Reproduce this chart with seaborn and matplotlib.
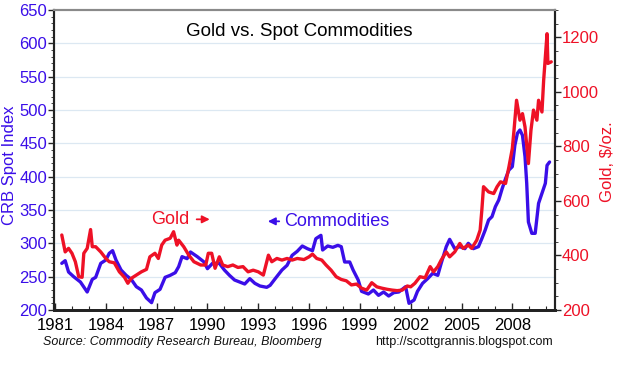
import matplotlib
matplotlib.use('Agg')

import matplotlib.pyplot as plt
import seaborn as sns
from matplotlib.ticker import MultipleLocator

# CRB spot index (left axis)
crb_year = [1981.4, 1981.6, 1981.8, 1982.1, 1982.5, 1982.9, 1983.2, 1983.4, 1983.7, 1984.0,
            1984.2, 1984.4, 1984.6, 1984.9, 1985.2, 1985.5, 1985.8, 1986.1, 1986.4, 1986.7,
            1986.9, 1987.2, 1987.5, 1987.8, 1988.1, 1988.3, 1988.5, 1988.8, 1989.0, 1989.4,
            1989.8, 1990.0, 1990.3, 1990.7, 1991.0, 1991.3, 1991.6, 1991.9, 1992.2, 1992.5,
            1992.8, 1993.1, 1993.5, 1993.7, 1994.0, 1994.4, 1994.7, 1995.0, 1995.3, 1995.6,
            1995.9, 1996.2, 1996.4, 1996.7, 1996.8, 1997.1, 1997.4, 1997.7, 1997.9, 1998.1,
            1998.4, 1998.6, 1998.9, 1999.1, 1999.5, 1999.8, 2000.1, 2000.4, 2000.7, 2001.0,
            2001.3, 2001.7, 2001.9, 2002.2, 2002.4, 2002.7, 2003.0, 2003.3, 2003.6, 2003.8,
            2004.1, 2004.3, 2004.6, 2004.9, 2005.2, 2005.4, 2005.7, 2006.0, 2006.2, 2006.4,
            2006.6, 2006.8, 2007.0, 2007.2, 2007.4, 2007.6, 2007.8, 2008.0, 2008.15, 2008.3,
            2008.45, 2008.6, 2008.75, 2008.85, 2008.95, 2009.15, 2009.35, 2009.55, 2009.75, 2009.95,
            2010.05, 2010.2]
crb_value = [270, 274, 257, 250, 242, 227, 246, 249, 270, 275,
             285, 289, 275, 260, 252, 246, 235, 230, 218, 211,
             226, 231, 249, 252, 256, 265, 280, 277, 287, 280,
             272, 262, 270, 270, 260, 252, 245, 242, 239, 247,
             240, 236, 234, 237, 247, 260, 267, 282, 288, 296,
             292, 289, 307, 312, 290, 296, 294, 297, 295, 272,
             272, 260, 245, 228, 224, 230, 222, 227, 221, 226,
             227, 235, 210, 215, 228, 240, 247, 255, 252, 270,
             295, 306, 292, 295, 292, 300, 292, 295, 307, 320,
             335, 340, 355, 365, 382, 397, 410, 415, 447, 465,
             470, 462, 430, 390, 332, 315, 315, 360, 375, 390,
             417, 422]

# Gold, $/oz. (right axis)
gold_year = [1981.4, 1981.6, 1981.8, 1982.0, 1982.2, 1982.4, 1982.6, 1982.7, 1982.9, 1983.1,
             1983.2, 1983.4, 1983.7, 1984.0, 1984.2, 1984.5, 1984.8, 1985.1, 1985.3, 1985.5,
             1985.8, 1986.1, 1986.4, 1986.6, 1986.9, 1987.1, 1987.3, 1987.5, 1987.8, 1988.0,
             1988.2, 1988.3, 1988.6, 1988.9, 1989.2, 1989.6, 1989.9, 1990.05, 1990.25, 1990.45,
             1990.7, 1990.9, 1991.2, 1991.5, 1991.8, 1992.1, 1992.4, 1992.7, 1993.0, 1993.3,
             1993.6, 1993.8, 1994.1, 1994.4, 1994.7, 1995.0, 1995.3, 1995.7, 1996.0, 1996.2,
             1996.45, 1996.75, 1997.0, 1997.3, 1997.6, 1997.9, 1998.2, 1998.5, 1998.8, 1999.1,
             1999.4, 1999.7, 2000.0, 2000.3, 2000.6, 2000.9, 2001.2, 2001.5, 2001.8, 2002.0,
             2002.25, 2002.55, 2002.85, 2003.15, 2003.35, 2003.6, 2003.8, 2004.1, 2004.3, 2004.6,
             2004.9, 2005.1, 2005.4, 2005.6, 2005.9, 2006.1, 2006.2, 2006.3, 2006.6, 2006.9,
             2007.1, 2007.3, 2007.6, 2007.8, 2008.0, 2008.1, 2008.25, 2008.45, 2008.6, 2008.75,
             2008.95, 2009.1, 2009.25, 2009.45, 2009.55, 2009.75, 2009.85, 2010.05, 2010.1, 2010.3]
gold_value = [475, 413, 426, 408, 377, 322, 320, 408, 426, 495,
              432, 432, 413, 389, 377, 373, 340, 320, 298, 316,
              328, 340, 349, 395, 408, 389, 438, 456, 463, 487,
              438, 456, 432, 401, 377, 365, 365, 408, 408, 353,
              395, 365, 359, 365, 356, 359, 340, 346, 340, 328,
              401, 377, 389, 383, 389, 383, 389, 385, 395, 405,
              389, 383, 365, 346, 322, 312, 307, 292, 295, 280,
              273, 300, 285, 280, 276, 273, 271, 273, 288, 285,
              298, 322, 318, 359, 340, 359, 383, 413, 395, 413,
              444, 426, 438, 426, 456, 493, 566, 652, 633, 627,
              652, 670, 664, 725, 792, 859, 969, 896, 920, 871,
              737, 859, 933, 896, 969, 926, 1042, 1213, 1104, 1110]

left_ticks = [200, 250, 300, 350, 400, 450, 500, 550, 600, 650]
right_ticks = [200, 400, 600, 800, 1000, 1200]
year_ticks = [1981, 1984, 1987, 1990, 1993, 1996, 1999, 2002, 2005, 2008]

BLUE = '#3a0ee8'
RED = '#ee1126'

sns.set_theme(style='white')
plt.rcParams['font.family'] = ['Liberation Sans', 'DejaVu Sans']

fig = plt.figure(figsize=(6.19, 3.73), dpi=100)
ax = fig.add_axes([54 / 619, 1 - 310 / 373, 501 / 619, 300 / 373])
ax2 = ax.twinx()

sns.lineplot(x=crb_year, y=crb_value, ax=ax, color=BLUE, linewidth=2.4)
sns.lineplot(x=gold_year, y=gold_value, ax=ax2, color=RED, linewidth=2.4)

ax.set_xlim(1980.94, 2010.52)
ax.set_ylim(200, 650)
ax2.set_ylim(200, 1300)

ax.set_xticks(year_ticks)
ax.set_xticklabels([str(y) for y in year_ticks], fontsize=12, color='black')
ax.xaxis.set_minor_locator(MultipleLocator(1))
ax.set_yticks(left_ticks)
ax.set_yticklabels([str(v) for v in left_ticks], fontsize=12, color=BLUE)
ax.yaxis.set_minor_locator(MultipleLocator(10))
ax2.set_yticks(right_ticks)
ax2.set_yticklabels([str(v) for v in right_ticks], fontsize=12, color=RED)
ax2.yaxis.set_minor_locator(MultipleLocator(50))

ax.tick_params(axis='x', which='major', direction='in', length=5, width=1, pad=6, bottom=True)
ax.tick_params(axis='x', which='minor', direction='in', length=3, width=0.8, bottom=True)
ax.tick_params(axis='y', which='major', direction='out', length=4, width=1, pad=1, left=True)
ax.tick_params(axis='y', which='minor', direction='out', length=2, width=0.6, left=True)
ax2.tick_params(axis='y', which='major', direction='out', length=4, width=1, pad=1, right=True)
ax2.tick_params(axis='y', which='minor', direction='out', length=2, width=0.6, right=True)

ax.grid(False)
ax2.grid(False)
for v in left_ticks[1:-1]:
    ax.axhline(v, color='#dce8f2', linewidth=0.9, zorder=0)

for a in (ax, ax2):
    a.spines['top'].set_color('#8a8a8a')
    a.spines['top'].set_linewidth(1.5)
    a.spines['bottom'].set_color('#222222')
    a.spines['bottom'].set_linewidth(2)
    a.spines['left'].set_color('#222222')
    a.spines['left'].set_linewidth(1.5)
    a.spines['right'].set_color('#222222')
    a.spines['right'].set_linewidth(1.5)
ax.set_xlabel('')
ax.set_ylabel('')
ax2.set_ylabel('')

ax.text(0.49, 0.93, 'Gold vs. Spot Commodities', transform=ax.transAxes,
        ha='center', va='center', fontsize=13.5, color='black')

ax.text(1986.7, 335, 'Gold', color=RED, fontsize=13, ha='left', va='center')
ax.annotate('', xy=(1990.3, 336), xytext=(1989.2, 336),
            arrowprops=dict(arrowstyle='-|>', color=RED, lw=1.3, mutation_scale=11))
ax.text(1994.5, 333, 'Commodities', color=BLUE, fontsize=13, ha='left', va='center')
ax.annotate('', xy=(1993.4, 333), xytext=(1994.4, 333),
            arrowprops=dict(arrowstyle='-|>', color=BLUE, lw=1.3, mutation_scale=11))

fig.text(10 / 619, 1 - 165 / 373, 'CRB Spot Index', rotation=90, color=BLUE,
         fontsize=12, ha='center', va='center')
fig.text(607 / 619, 1 - 162 / 373, 'Gold, $/oz.', rotation=90, color=RED,
         fontsize=12, ha='center', va='center')

fig.text(43 / 619, 1 - 342 / 373, 'Source: Commodity Research Bureau, Bloomberg',
         style='italic', fontsize=9, ha='left', va='center', color='#111111')
fig.text(553 / 619, 1 - 342 / 373, 'http://scottgrannis.blogspot.com',
         fontsize=9, ha='right', va='center', color='#111111')

fig.savefig('out.png', dpi=100)
